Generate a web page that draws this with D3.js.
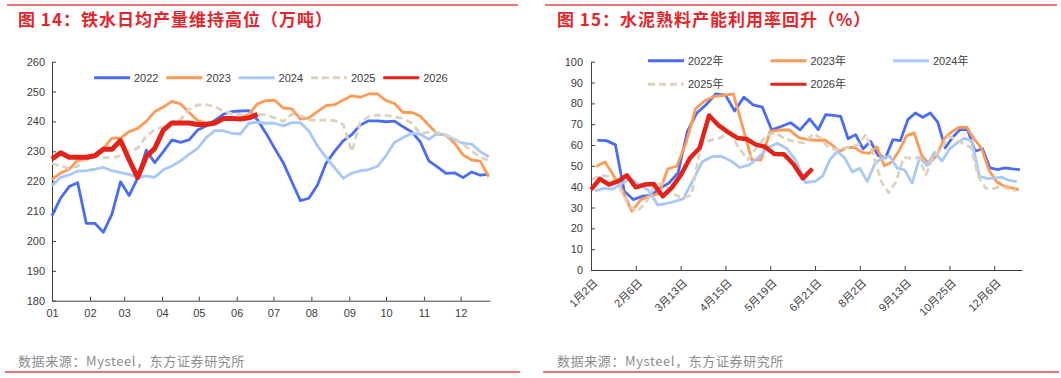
<!DOCTYPE html>
<html>
<head>
<meta charset="utf-8">
<script src="https://cdn.jsdelivr.net/npm/d3@7"></script>
<style>
  body { margin: 0; background: #fff; }
  text { font-family: "Liberation Sans", "Noto Sans CJK SC", sans-serif; }
</style>
</head>
<body>
<div class="chart"></div>
<script>
const years = ['2022', '2023', '2024', '2025', '2026'];
const colors = ['#4a6cf5', '#fd9a55', '#a8c8f8', '#ddd2bf', '#e2231a'];

// 图14 铁水日均产量, weekly points from Jan 1
const iron2022 = [208.5, 214.3, 218.2, 219.5, 205.9, 205.9, 202.9, 209, 219.8, 215.2, 221, 230.4, 226.2, 229.9, 233.8, 233, 233.8, 237.1, 238.5, 240.3, 242.4, 243.3, 243.5, 243.6, 240.5, 236, 231, 226.2, 219.8, 213.5, 214.3, 218.7, 226, 230, 233.5, 235.6, 238.8, 240.2, 240.2, 239.9, 240.1, 238.2, 236.5, 233.2, 226.8, 224.8, 222.6, 222.8, 221.2, 223.1, 222, 222.3];
const iron2023 = [220.6, 222.7, 224, 226.9, 227.3, 228.8, 231, 234.4, 234.4, 236.6, 237.7, 240, 243.3, 244.8, 246.7, 245.9, 243, 240.3, 239.5, 239.8, 240.5, 241, 241, 242.5, 245.9, 247, 247.1, 244.5, 244.2, 240.8, 241.2, 243.3, 245.3, 245.6, 247.2, 248.6, 248.1, 249.2, 249.2, 247, 246, 243, 243, 241.8, 238.7, 235.8, 235.4, 232.7, 228.8, 227.1, 226.7, 221.5];
const iron2024 = [218.4, 221.3, 222.1, 223.4, 223.5, 224, 224.6, 223.5, 222.9, 222.3, 221.3, 221.8, 221.3, 223.8, 225.1, 226.8, 229, 231, 234.6, 236.9, 236.9, 236, 235.8, 239.4, 239.8, 239.4, 239.4, 238.5, 239.6, 239.6, 236.8, 231.8, 228, 224.5, 221, 222.7, 223.5, 223.9, 225, 228.5, 233, 234.6, 236, 235.8, 234, 236, 235.4, 233.8, 232.7, 232.4, 229.9, 228.2];
const iron2025 = [226, 225, 224.4, 225, 227.7, 228.2, 228, 227.7, 228.5, 230, 231, 235, 237.3, 238.2, 239.8, 240.6, 244, 245.5, 245.6, 245, 243.5, 242.6, 242.2, 242.2, 242.4, 242.2, 241.2, 240, 242.5, 241.9, 240.6, 240.3, 240.5, 240.3, 239, 229.9, 239.8, 241.6, 242.1, 242, 241.5, 241, 239.4, 236, 236.4, 236.3, 235.5, 234.2, 232.4, 230.2, 228, 227];
const iron2026 = [227.4, 229.5, 228, 228, 228, 228.5, 230.7, 230.7, 233.6, 227.2, 221.2, 228.2, 231, 237.1, 239.5, 239.5, 239.5, 239, 239, 239.5, 241, 241, 240.8, 241.2, 242.4];

// 图15 水泥熟料产能利用率, weekly (Friday) points
const cementStart = ['2022-01-07', '2023-01-06', '2024-01-05', '2025-01-03', '2026-01-02'];
const cement2022 = [62.2, 62.1, 60.2, 37.8, 33.8, 35.4, 35.8, 39.4, 41.8, 46.6, 66.6, 75.4, 79.5, 84.6, 84, 76.3, 83, 79.3, 78.2, 67.3, 68.9, 70.7, 67.3, 72.5, 67.4, 74.6, 74.2, 73.8, 63, 65, 58.1, 61.8, 55, 53.8, 62.6, 62.1, 72.2, 75.4, 73.3, 75.4, 71, 58.6, 63.7, 67.4, 67.4, 57, 58.2, 49, 48.2, 49, 48.5, 48.2];
const cement2023 = [49.7, 51.9, 45, 37.5, 28.2, 33.8, 35.6, 36.5, 48.6, 49.8, 61, 77.4, 81.4, 83.4, 83.8, 84.5, 69, 53, 52.9, 66.6, 67.2, 67.3, 63.6, 62.6, 62.3, 62.4, 60, 57, 58.8, 58.9, 56.5, 56, 59.2, 50, 52, 57.5, 64.5, 65.8, 55, 50.8, 55, 63, 66.3, 68.5, 68.6, 63, 58.5, 48, 42.5, 40.3, 39.4, 38.6];
const cement2024 = [38, 39.2, 38.8, 41.5, 44, 41, 38.2, 31.3, 31.8, 32.8, 34.2, 43, 52, 54.4, 54.6, 52.5, 49.2, 50.5, 54, 58.5, 60.9, 58.5, 52.5, 42, 42.5, 45, 53, 57, 53.6, 47, 48.8, 42.5, 51, 53.8, 54.7, 49, 48, 41.7, 54, 50.2, 56.5, 52.3, 58, 61, 63.2, 62, 45, 44, 44.1, 44.6, 43, 42.4];
const cement2025 = [43.4, 45.5, 45, 40, 31.5, 28, 32.5, 41, 41.7, 36.5, 34.6, 36, 60, 62.3, 63.4, 65.8, 59, 53, 59, 64.5, 66, 62.8, 61.6, 61, 65.5, 63, 58.5, 57.8, 58.5, 58.9, 60.5, 65.2, 55, 42.5, 37, 42.5, 54, 53.7, 54, 45.7, 54.5, 57.5, 64, 63, 60.5, 59, 45, 39.3, 39.1, 40.3, 39, 38];
const cement2026 = [38.6, 43.8, 41, 42.6, 45.4, 39.7, 41, 41.3, 35.4, 39.4, 45.4, 53.8, 58.6, 74.2, 69.4, 66.2, 63.4, 62.9, 60.2, 59.2, 55.7, 55.6, 50.9, 44, 48.6];
const cementTickDates = ['01-02', '02-06', '03-13', '04-15', '05-19', '06-21', '08-02', '09-13', '10-25', '12-06'];
const cementTickLabels = ['1月2日', '2月6日', '3月13日', '4月15日', '5月19日', '6月21日', '8月2日', '9月13日', '10月25日', '12月6日'];

const ironSeries = [iron2022, iron2023, iron2024, iron2025, iron2026];
const cementSeries = [cement2022, cement2023, cement2024, cement2025, cement2026];

const red = '#e4262c';
const axisColor = '#404040';

const svg = d3.select('.chart')
  .append('svg')
  .attr('width', 1061)
  .attr('height', 378);

// frame lines, titles, sources
[[7, 518], [545, 1057]].forEach(([a, b]) => {
  svg.append('line').attr('x1', a).attr('x2', b).attr('y1', 5).attr('y2', 5)
    .attr('stroke', '#e8454a').attr('stroke-width', 1.3);
  svg.append('line').attr('x1', a - 2).attr('x2', b + 2).attr('y1', 372).attr('y2', 372)
    .attr('stroke', '#e8454a').attr('stroke-width', 1.6);
});

svg.append('text').attr('x', 18).attr('y', 26)
  .style('font-family', '"Noto Sans CJK SC", sans-serif')
  .style('font-size', '17px').style('font-weight', 'bold').style('letter-spacing', '1px').attr('fill', red)
  .text('图 14：铁水日均产量维持高位（万吨）');
svg.append('text').attr('x', 557).attr('y', 26)
  .style('font-family', '"Noto Sans CJK SC", sans-serif')
  .style('font-size', '17px').style('font-weight', 'bold').style('letter-spacing', '1px').attr('fill', red)
  .text('图 15：水泥熟料产能利用率回升（%）');

[18, 557].forEach(x => {
  svg.append('text').attr('x', x).attr('y', 366)
    .style('font-family', '"Noto Sans CJK SC", sans-serif')
    .style('font-size', '13px').style('letter-spacing', '0.6px').attr('fill', '#8c8c8c')
    .text('数据来源：Mysteel，东方证券研究所');
});

function styleAxis(g) {
  g.select('.domain').attr('stroke', axisColor);
  g.selectAll('.tick line').attr('stroke', axisColor);
  g.selectAll('.tick text').attr('fill', axisColor).style('font-size', '11px');
}

function drawLines(g, series, xFn, yScale, redWidth) {
  series.forEach((pts, i) => {
    g.append('path')
      .datum(pts)
      .attr('fill', 'none')
      .attr('stroke', colors[i])
      .attr('stroke-width', i === 4 ? redWidth : 2.8)
      .attr('stroke-linejoin', 'round')
      .attr('stroke-dasharray', i === 3 ? '7,4' : null)
      .attr('d', d3.line().x(xFn).y(d => yScale(d.value)));
  });
}

function legendItem(g, i, x, y) {
  g.append('line')
    .attr('x1', x).attr('x2', x + 36).attr('y1', y).attr('y2', y)
    .attr('stroke', colors[i]).attr('stroke-width', 3)
    .attr('stroke-dasharray', i === 3 ? '7,4' : null);
}

// ---------- left: 铁水 ----------
const left = { x0: 52, x1: 490, y0: 61.7, y1: 300.7 };
const commonYear = 2021;

const xL = d3.scaleTime()
  .domain([new Date(commonYear, 0, 1), new Date(commonYear, 11, 25)])
  .range([left.x0, left.x1]);
const yL = d3.scaleLinear().domain([180, 260]).range([left.y1, left.y0]);

const gL = svg.append('g');
gL.append('g')
  .attr('transform', `translate(${left.x0},0)`)
  .call(d3.axisLeft(yL).tickValues(d3.range(180, 261, 10)).tickSizeInner(-4).tickSizeOuter(0).tickPadding(7))
  .call(styleAxis);
gL.append('g')
  .attr('transform', `translate(0,${left.y1})`)
  .call(d3.axisBottom(xL).ticks(d3.timeMonth.every(1)).tickFormat(d3.timeFormat('%m'))
    .tickSizeInner(-4).tickSizeOuter(0).tickPadding(9))
  .call(styleAxis);

const ironPts = ironSeries.map(vals => vals.map((v, i) => ({ date: new Date(commonYear, 0, 1 + 7 * i), value: v })));
drawLines(gL.append('g'), ironPts, d => xL(d.date), yL, 5);

years.forEach((yr, i) => {
  const x = 94 + i * 72.3;
  legendItem(gL, i, x, 77.7);
  gL.append('text').attr('x', x + 40).attr('y', 77.7).attr('dy', '0.35em')
    .style('font-size', '11px').attr('fill', axisColor).text(yr);
});

// ---------- right: 水泥 ----------
const right = { x0: 591, x1: 1022, y0: 61.7, y1: 270 };
const doy = d => d3.timeDay.count(d3.timeYear(d), d);
const toCommon = d => new Date(commonYear, d.getMonth(), d.getDate());
const parseMD = d3.timeParse('%m-%d');

const tickDays = cementTickDates.map(s => doy(toCommon(parseMD(s))));
const endDay = 365;
const n = tickDays.length;
const lastGap = (endDay - tickDays[n - 1]) / (tickDays[n - 1] - tickDays[n - 2]);
const tickStep = (right.x1 - right.x0) / (n - 1 + lastGap);

const xR = d3.scaleLinear()
  .domain([...tickDays, endDay])
  .range([...tickDays.map((d, i) => right.x0 + i * tickStep), right.x1]);
const yR = d3.scaleLinear().domain([0, 100]).range([right.y1, right.y0]);

const gR = svg.append('g');
gR.append('g')
  .attr('transform', `translate(${right.x0},0)`)
  .call(d3.axisLeft(yR).tickValues(d3.range(0, 101, 10)).tickSizeInner(-4).tickSizeOuter(0).tickPadding(8))
  .call(styleAxis);
gR.append('g')
  .attr('transform', `translate(0,${right.y1})`)
  .call(d3.axisBottom(xR).tickValues(tickDays).tickFormat((d, i) => cementTickLabels[i])
    .tickSizeInner(-4).tickSizeOuter(0))
  .call(styleAxis)
  .selectAll('.tick text')
  .attr('y', 0).attr('dy', '0.35em')
  .style('text-anchor', 'end')
  .attr('transform', 'translate(4,11) rotate(-45)');

const cementPts = cementSeries.map((vals, s) => {
  const start = d3.timeParse('%Y-%m-%d')(cementStart[s]);
  return vals.map((v, i) => ({
    day: doy(toCommon(new Date(start.getFullYear(), start.getMonth(), start.getDate() + 7 * i))),
    value: v
  }));
});
drawLines(gR.append('g'), cementPts, d => xR(d.day), yR, 4.5);

years.forEach((yr, i) => {
  const x = 648 + (i % 3) * 122.5;
  const y = i < 3 ? 60.7 : 84.3;
  legendItem(gR, i, x, y);
  gR.append('text').attr('x', x + 40).attr('y', y).attr('dy', '0.35em')
    .style('font-size', '11px').attr('fill', axisColor).text(yr + '年');
});
</script>
</body>
</html>
